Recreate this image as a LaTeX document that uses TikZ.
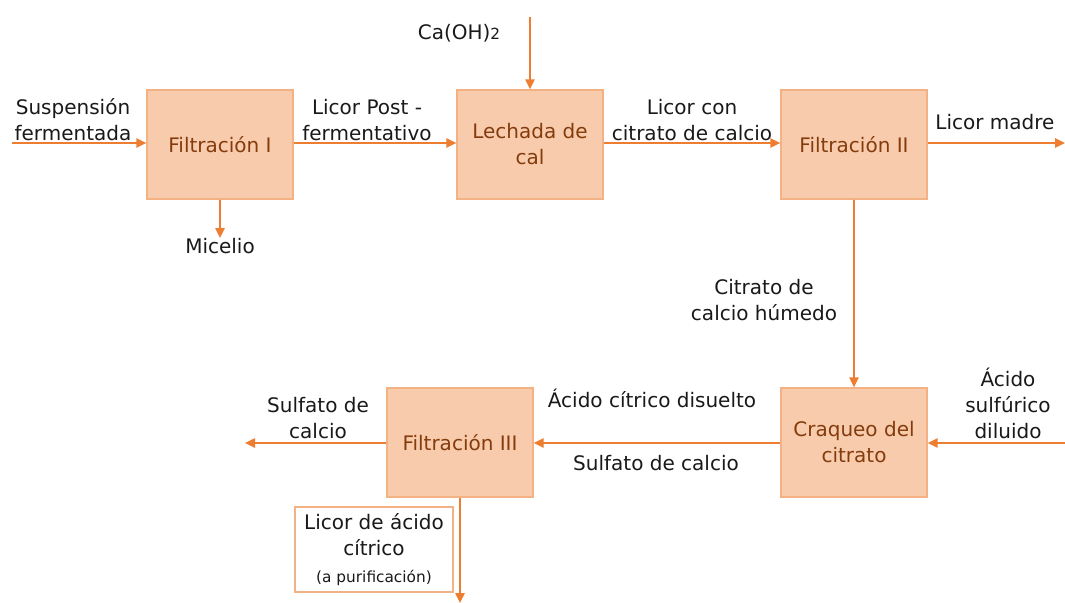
\documentclass[tikz,border=0pt]{standalone}
\usepackage{fontspec}
\setmainfont{DejaVu Sans}
\usetikzlibrary{arrows.meta}
\definecolor{boxfill}{HTML}{F8CBAD}
\definecolor{boxline}{HTML}{F4B183}
\definecolor{boxtext}{HTML}{843C0C}
\definecolor{arr}{HTML}{ED7D31}
\begin{document}
\begin{tikzpicture}[x=0.75pt,y=-0.75pt,
  every node/.style={font=\fontsize{15}{19.5}\selectfont, text=black!90, align=center, inner sep=0pt},
  proc/.style={draw=boxline, fill=boxfill, line width=1pt, minimum width=109.5pt, minimum height=81.75pt, text=boxtext},
  flow/.style={draw=arr, line width=1.1pt, -{Triangle[length=7.5pt,width=7pt]}},
  lbl/.style={}]
\useasboundingbox (0,0) rectangle (1065,603);
% process boxes
\node[proc] (f1) at (220,144.5) {Filtración I};
\node[proc] (lc) at (530,144.5) {Lechada de\\cal};
\node[proc] (f2) at (854,144.5) {Filtración II};
\node[proc] (cq) at (854,442.5) {Craqueo del\\citrato};
\node[proc] (f3) at (460,442.5) {Filtración III};
% small box
\node[draw=boxline, fill=white, line width=0.8pt, minimum width=118.5pt, minimum height=63.75pt] (lb) at (374,549.5) {};
\node (lbt) at (374,535) {Licor de ácido\\cítrico};
\node[font=\fontsize{11.5}{14}\selectfont] (lbp) at (374,578) {(a purificación)};
% free ends
\coordinate (in) at (12,143);
\coordinate (out) at (1065,143);
\coordinate (ca) at (530,17);
\coordinate (mic) at (220,238);
\coordinate (acin) at (1065,443);
\coordinate (sulf) at (245,443);
\coordinate (bot) at (460,603);
% arrows
\draw[flow] (in) -- (f1.west |- in);
\draw[flow] (f1.east |- in) -- (lc.west |- in);
\draw[flow] (lc.east |- in) -- (f2.west |- in);
\draw[flow] (f2.east |- out) -- (out);
\draw[flow] (ca) -- (lc.north);
\draw[flow] (f1.south) -- (mic);
\draw[flow] (f2.south) -- (cq.north);
\draw[flow] (acin) -- (cq.east |- acin);
\draw[flow] (cq.west |- acin) -- (f3.east |- acin);
\draw[flow] (f3.west |- acin) -- (sulf);
\draw[flow] (f3.south) -- (bot);
% labels
\node (l1) at (73,120) {Suspensión\\fermentada};
\node (l2) at (367,120) {Licor Post -\\fermentativo};
\node (l3) at (459,33) {Ca(OH){\fontsize{11.5}{14}\selectfont 2}};
\node (l4) at (692,120) {Licor con\\citrato de calcio};
\node (l5) at (995,122) {Licor madre};
\node (l6) at (220,246) {Micelio};
\node (l7) at (764,300) {Citrato de\\calcio húmedo};
\node (l8) at (1008,403) {Ácido\\sulfúrico\\diluido};
\node (l9) at (652,398) {Ácido cítrico disuelto};
\node (l10) at (656,463) {Sulfato de calcio};
\node (l11) at (318,418) {Sulfato de\\calcio};
\end{tikzpicture}
\end{document}
